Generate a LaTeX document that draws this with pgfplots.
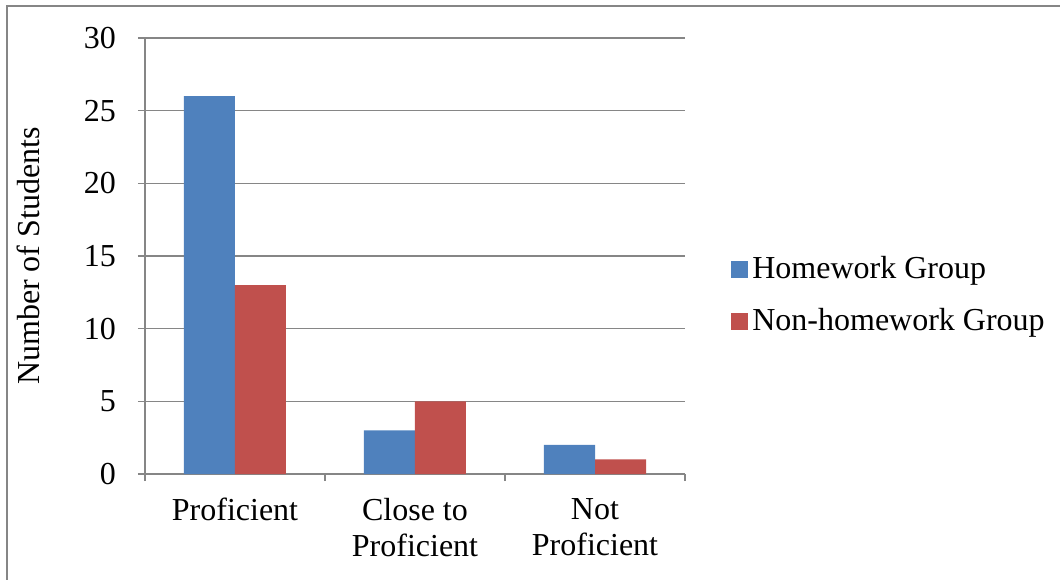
\documentclass[border=0pt]{standalone}
\usepackage{fontspec}
\setmainfont{Liberation Serif}
\usepackage{pgfplots}
\pgfplotsset{compat=1.18}

\definecolor{hwblue}{HTML}{4F81BD}
\definecolor{nhwred}{HTML}{C0504D}
\definecolor{axgray}{HTML}{868686}

\begin{document}
\begin{tikzpicture}
\begin{axis}[
    name=ax,
    scale only axis,
    width=270pt, height=218pt,
    ybar=0pt,
    bar width=25.5pt,
    xmin=-0.5, xmax=2.5,
    ymin=0, ymax=30,
    ytick={0,5,...,30},
    xtick={0,1,2},
    xticklabels={Proficient,{Close to\\Proficient},{Not\\Proficient}},
    minor xtick={-0.5,0.5,1.5,2.5},
    axis x line*=bottom,
    axis y line*=left,
    axis line style={axgray, line width=0.8pt},
    ymajorgrids,
    grid style={axgray, line width=0.8pt},
    major x tick style={draw=none},
    minor x tick style={axgray, line width=0.8pt},
    y tick style={axgray, line width=0.8pt},
    tick align=outside,
    major tick length=3.5pt,
    minor tick length=3.5pt,
    tick label style={font=\fontsize{16}{18}\selectfont},
    xticklabel style={align=center, yshift=-5pt},
    yticklabel style={xshift=-7.5pt},
    /pgf/number format/assume math mode=true,
    ylabel={Number of Students},
    ylabel style={font=\fontsize{16}{18}\selectfont, yshift=15pt},
    legend style={
        draw=none,
        at={(1.074,0.41)}, anchor=west,
        font=\fontsize{16}{18}\selectfont,
        row sep=9.5pt,
    },
    legend cell align=left,
    legend image code/.code={
        \fill[#1] (0pt,-4.25pt) rectangle (8.5pt,4.25pt);
    },
]
\addplot[fill=hwblue, draw=none] coordinates {(0,26) (1,3) (2,2)};
\addplot[fill=nhwred, draw=none] coordinates {(0,13) (1,5) (2,1)};
\legend{Homework Group, Non-homework Group}
\end{axis}
\pgfresetboundingbox
% page: pixel (x,y) -> ((x-145)/2 pt, (474-y)/2 pt)
\path[use as bounding box] (-72.5pt,237pt) rectangle (457.5pt,-52.5pt);
\draw[axgray, line width=1pt] (-69pt,-70pt) -- (-69pt,234pt) -- (470pt,234pt);
\end{tikzpicture}
\end{document}
